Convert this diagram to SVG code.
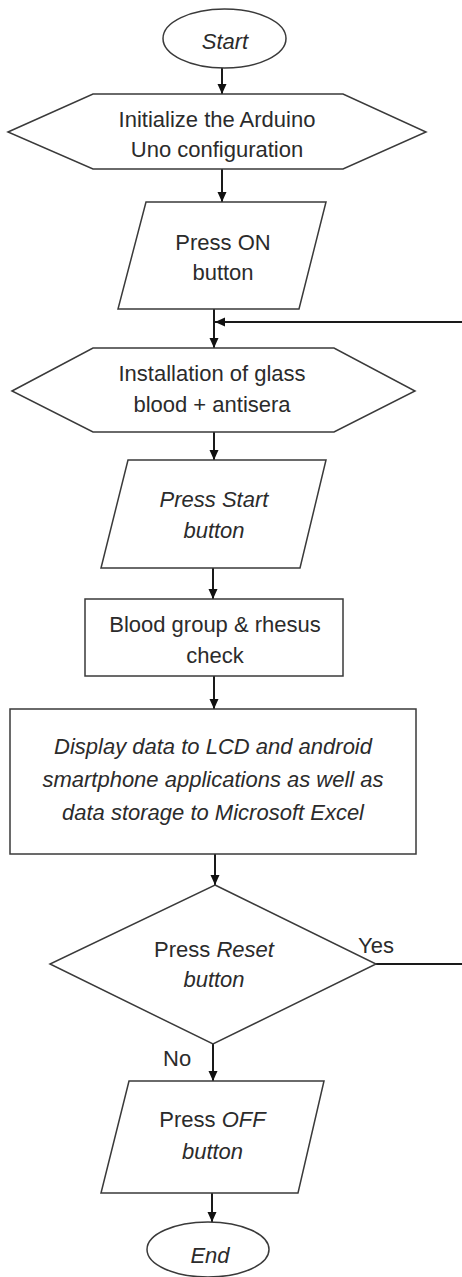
<svg xmlns="http://www.w3.org/2000/svg" width="462" height="1277" viewBox="0 0 462 1277">
<style>
.shape{fill:#fff;stroke:#3a3a3a;stroke-width:1.5}
.conn{fill:none;stroke:#1a1a1a;stroke-width:2}
text{font-family:"Liberation Sans",Arial,sans-serif;font-size:22px;fill:#2b2b2b;text-anchor:middle}
.it{font-style:italic}
.lbl{text-anchor:start}
</style>
<defs>
<marker id="arr" markerUnits="userSpaceOnUse" markerWidth="10" markerHeight="10" viewBox="0 0 10 10" refX="10" refY="5" orient="auto">
<path d="M0,0.5 L10,5 L0,9.5 Z" fill="#111"/>
</marker>
</defs>
<rect width="462" height="1277" fill="#fff"/>
<g id="connectors">
<line class="conn" x1="222" y1="68" x2="222" y2="94" marker-end="url(#arr)"/>
<line class="conn" x1="222" y1="169" x2="222" y2="202" marker-end="url(#arr)"/>
<line class="conn" x1="214" y1="309" x2="214" y2="348" marker-end="url(#arr)"/>
<path class="conn" d="M376,964 H475 V322 H215" marker-end="url(#arr)"/>
<line class="conn" x1="214" y1="432" x2="214" y2="460" marker-end="url(#arr)"/>
<line class="conn" x1="213" y1="568" x2="213" y2="599" marker-end="url(#arr)"/>
<line class="conn" x1="214" y1="676" x2="214" y2="709" marker-end="url(#arr)"/>
<line class="conn" x1="215" y1="854" x2="215" y2="885" marker-end="url(#arr)"/>
<line class="conn" x1="213" y1="1044" x2="213" y2="1081" marker-end="url(#arr)"/>
<line class="conn" x1="212" y1="1193" x2="212" y2="1222" marker-end="url(#arr)"/>
<text class="lbl" x="358" y="953">Yes</text>
<text class="lbl" x="163" y="1066">No</text>
</g>
<g id="start">
<ellipse class="shape" cx="224.5" cy="38.5" rx="61.5" ry="29.5"/>
<text class="it" x="225" y="49">Start</text>
</g>
<g id="init">
<polygon class="shape" points="8,132 93,94 343,94 426,132 343,169 93,169"/>
<text x="217" y="127">Initialize the Arduino</text>
<text x="217" y="157">Uno configuration</text>
</g>
<g id="press-on">
<polygon class="shape" points="146,202 326,202 299,309 118,309"/>
<text x="223" y="250">Press ON</text>
<text x="223" y="280">button</text>
</g>
<g id="install">
<polygon class="shape" points="12,391 93,348 334,348 415,391 334,432 93,432"/>
<text x="212" y="381">Installation of glass</text>
<text x="212" y="412">blood + antisera</text>
</g>
<g id="press-start">
<polygon class="shape" points="128,460 326,460 300,568 101,568"/>
<text class="it" x="214" y="507">Press Start</text>
<text class="it" x="214" y="538">button</text>
</g>
<g id="check">
<rect class="shape" x="85" y="599" width="258" height="77"/>
<text x="215" y="632">Blood group &amp; rhesus</text>
<text x="215" y="663">check</text>
</g>
<g id="display">
<rect class="shape" x="10" y="709" width="406" height="145"/>
<text class="it" x="213" y="754">Display data to LCD and android</text>
<text class="it" x="213" y="787">smartphone applications as well as</text>
<text class="it" x="213" y="820">data storage to Microsoft Excel</text>
</g>
<g id="reset">
<polygon class="shape" points="215,885 376,964 213,1044 50,964"/>
<text x="214" y="957">Press <tspan class="it">Reset</tspan></text>
<text class="it" x="214" y="987">button</text>
</g>
<g id="press-off">
<polygon class="shape" points="129,1081 324,1081 298,1193 101,1193"/>
<text x="212.5" y="1127">Press <tspan class="it">OFF</tspan></text>
<text class="it" x="212.5" y="1159">button</text>
</g>
<g id="end">
<ellipse class="shape" cx="208" cy="1249.5" rx="61" ry="27.5"/>
<text class="it" x="210" y="1263">End</text>
</g>
</svg>
